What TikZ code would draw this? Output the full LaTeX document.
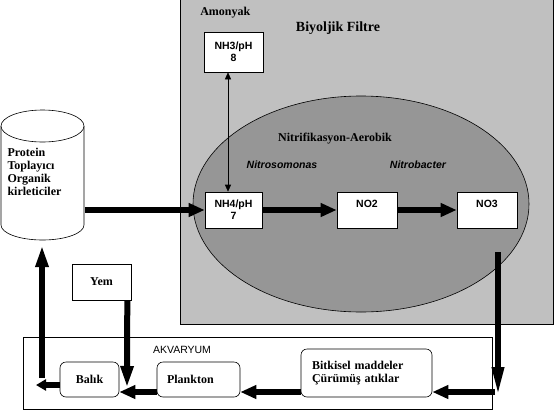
\documentclass[tikz,border=0pt]{standalone}
\usepackage{fontspec}
\setmainfont{Liberation Serif}
\setsansfont{Liberation Sans}
\usetikzlibrary{arrows.meta}
\definecolor{filtergray}{RGB}{192,192,192}
\definecolor{aerogray}{RGB}{150,150,150}

\begin{document}
\begin{tikzpicture}[
	x=1pt,
	y=-1pt,
	line width=0.6pt,
	serifb/.style={
		font=\bfseries\fontsize{12}{13}\selectfont
		},
	sansb/.style={
		font=\sffamily\bfseries\fontsize{10.5}{12}\selectfont
		},
	chem/.style={
		sansb,
		draw=black,
		fill=white,
		inner sep=0pt,
		align=center
		},
	tank/.style={
		serifb,
		draw=black,
		fill=white,
		rounded corners=6pt,
		inner sep=0pt,
		minimum height=35pt
		},
	flow/.style={
		line width=6pt,
		-{Triangle[length=16pt,width=13pt]}
		},
	drop/.style={
		flow,
		-{Triangle[length=22pt,width=12pt]}
		}
]

\path[use as bounding box, fill=white] (0,0) rectangle (554,410);

% Biological filter
\draw[fill=filtergray] (180,-2) rectangle (553,324);
\draw[fill=aerogray] (361,204) ellipse [x radius=168pt, y radius=108pt];
\node [serifb, anchor=west, inner sep=0pt] (Amonyak) at (200,13) {Amonyak};
\node [font=\bfseries\fontsize{14}{16}\selectfont] (Filtre) at (338,28) {Biyoljik Filtre};
\node [serifb] (Aerobik) at (335,139) {Nitrifikasyon-Aerobik};
\node [sansb, font=\sffamily\bfseries\itshape\fontsize{10.5}{12}\selectfont] (Nitrosomonas) at (282,165) {Nitrosomonas};
\node [sansb, font=\sffamily\bfseries\itshape\fontsize{10.5}{12}\selectfont] (Nitrobacter) at (418,165) {Nitrobacter};

% Compounds
\node [chem, minimum width=59pt, minimum height=40pt] (NH3) at (233.5,52) {NH3/pH\\8};
\node [chem, minimum width=57pt, minimum height=36pt] (NH4) at (233.5,210) {NH4/pH\\7};
\node [chem, minimum width=60pt, minimum height=36pt] (NO2) at (367,210) {NO2\\\phantom{7}};
\node [chem, minimum width=60pt, minimum height=36pt] (NO3) at (487,210) {NO3\\\phantom{7}};

% Protein skimmer
\draw[fill=white] (1,126) -- (1,225) arc[start angle=180, end angle=360, x radius=41.5pt, y radius=15pt] -- (84,126);
\draw[fill=white] (42.5,126) ellipse [x radius=41.5pt, y radius=16pt];
\node [serifb, align=left, text width=70pt, minimum width=84pt, minimum height=100pt, inner sep=0pt] (Toplayici) at (42.5,172) {Protein\\Toplayıcı\\Organik\\kirleticiler};

% Aquarium
\draw (23,337) rectangle (492,409);
\node [font=\sffamily\fontsize{10.5}{12}\selectfont] (Akvaryum) at (182,350) {AKVARYUM};
\node [tank, minimum width=59pt] (Balik) at (89.5,379.5) {Balık};
\node [tank, minimum width=83pt, text width=63pt, align=left] (Plankton) at (198.5,379.5) {Plankton};
\node [tank, minimum width=131pt, minimum height=48pt, text width=109pt, align=left] (Bitkisel) at (366.5,373) {Bitkisel maddeler\\Çürümüş atıklar};
\node [serifb, draw=black, fill=white, minimum width=59pt, minimum height=36pt, inner sep=0pt] (Yem) at (101.5,282) {Yem};

% Free ends
\coordinate (floor) at (0,392);
\coordinate (NO3out) at (498,252);
\coordinate (NO3end) at (498,397);
\coordinate (feed) at (127,388);
\coordinate (fishout) at (36,385);
\coordinate (upstart) at (42,378);
\coordinate (upend) at (42,245);

% Connectors
\draw[{Triangle[length=7pt,width=6pt]}-{Triangle[length=7pt,width=6pt]}] ([xshift=-5.5pt]NH3.south) -- ([xshift=-5.5pt]NH4.north);
\draw[flow] (Toplayici.east |- NH4.west) -- (NH4.west);
\draw[flow] (NH4) -- (NO2);
\draw[flow] (NO2) -- (NO3);
\draw[drop, -{Triangle[length=30pt,width=11pt]}] (NO3out) -- (NO3end);
\draw[flow] ([xshift=-3pt]NO3end |- floor) -- (Bitkisel.east |- floor);
\draw[flow] (Bitkisel.west |- floor) -- (Plankton.east |- floor);
\draw[flow] (Plankton.west |- floor) -- (Balik.east |- floor);
\draw[drop] ([xshift=-4pt]Yem.south east) -- (feed);
\draw[flow, -{Triangle[length=10pt,width=11pt]}] (Balik.west |- fishout) -- (fishout);
\draw[drop] (upstart) -- (upend);

\end{tikzpicture}
\end{document}
